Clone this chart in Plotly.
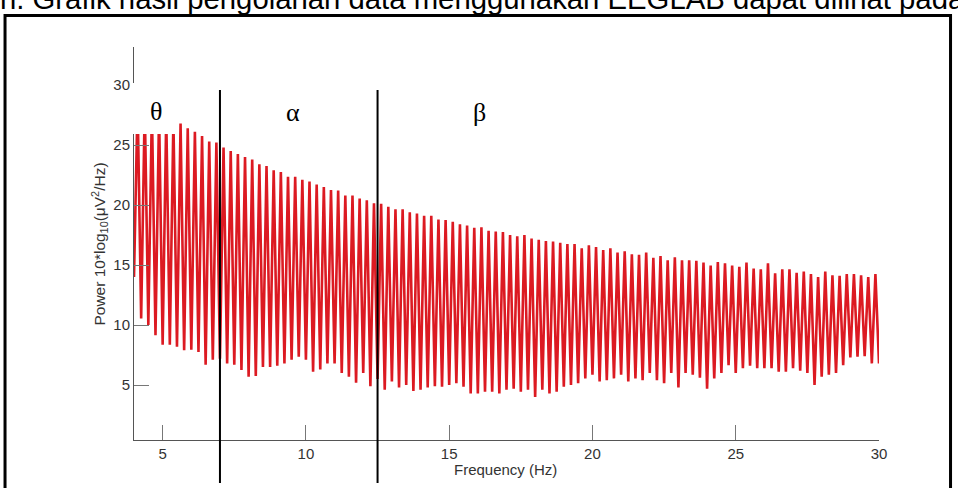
import numpy as np
import plotly.graph_objects as go

# ---------------- data ----------------
# spectrum alternates between local maxima and minima every 0.125 Hz
trough_hz = np.arange(4.0, 30.001, 0.25)          # 105 bins
peak_hz = trough_hz[:-1] + 0.125                  # 104 bins

peak_db = [28.6, 28.3, 28.0, 27.7, 27.4, 27.1, 26.8, 26.4, 26.1, 25.75,
           25.3, 25.2, 24.8, 24.5, 24.25, 24.0, 23.8, 23.4, 23.25, 22.9,
           22.75, 22.35, 22.35, 22.1, 21.95, 21.7, 21.5, 21.25, 21.2, 20.8,
           20.8, 20.55, 20.4, 20.15, 20.1, 19.85, 19.65, 19.65, 19.4, 19.3,
           19.1, 19.1, 18.8, 18.75, 18.6, 18.4, 18.3, 18.1, 18.15, 17.85,
           17.8, 17.75, 17.5, 17.4, 17.5, 17.2, 17.1, 17.0, 16.95, 16.85,
           16.75, 16.75, 16.4, 16.65, 16.5, 16.25, 16.4, 16.05, 16.15, 15.9,
           15.85, 16.05, 15.6, 15.75, 15.4, 15.65, 15.4, 15.4, 15.35, 15.2,
           14.95, 15.25, 15.15, 14.95, 14.85, 15.2, 14.7, 14.65, 15.15, 14.3,
           14.65, 14.65, 14.35, 14.45, 14.25, 14.0, 14.45, 14.15, 14.1, 14.25,
           14.25, 14.15, 14.0, 14.25]

trough_db = [14.0, 10.55, 10.0, 9.15, 8.35, 8.35, 8.2, 7.9, 7.95, 7.75,
             6.7, 7.1, 7.2, 6.8, 6.7, 6.25, 5.7, 5.75, 6.5, 6.5,
             6.6, 6.8, 7.1, 7.35, 7.1, 6.1, 6.3, 6.8, 6.8, 6.0,
             5.7, 5.2, 6.0, 4.9, 5.5, 4.6, 5.3, 4.8, 5.0, 4.5,
             4.6, 4.8, 4.9, 4.85, 5.0, 5.15, 4.85, 4.3, 4.3, 4.45,
             4.45, 4.3, 4.6, 4.7, 4.45, 4.6, 4.0, 4.6, 4.3, 4.45,
             4.85, 5.0, 5.15, 5.55, 5.85, 5.3, 5.4, 5.55, 5.85, 5.3,
             5.55, 5.4, 6.0, 5.4, 5.15, 6.0, 4.8, 6.0, 5.85, 5.6,
             4.7, 5.55, 6.0, 6.65, 6.0, 6.4, 6.6, 6.4, 6.4, 6.4,
             6.1, 6.1, 6.4, 6.2, 6.0, 5.0, 5.7, 5.85, 6.0, 6.65,
             7.3, 7.35, 7.4, 6.8, 6.8]

band_edges_hz = [7.0, 12.5]
band_labels = ["θ", "α", "β"]
x_ticks = [5, 10, 15, 20, 25, 30]
y_ticks = [5, 10, 15, 20, 25, 30]
caption = "n. Grafik hasil pengolahan data menggunakan EEGLAB dapat dilihat pada"

# interleave minima / maxima into one spectrum line
freq, power = [], []
for i in range(len(peak_db)):
    freq += [trough_hz[i], peak_hz[i]]
    power += [trough_db[i], peak_db[i]]
freq.append(trough_hz[-1])
power.append(trough_db[-1])

# ---------------- layout geometry (window pixels) ----------------
W, H = 958, 488
L = 134.4
T = 47
R = W - 879
B = H - 440
pw, ph = W - L - R, H - T - B


def px(x):  # window pixel -> paper
    return (x - L) / pw


def py(y):  # window pixel -> paper
    return (H - B - y) / ph


RED = "#dc1a22"

fig = go.Figure()
fig.add_trace(go.Scatter(x=freq, y=power, mode="lines",
                         line=dict(color=RED, width=2.6),
                         hoverinfo="skip", showlegend=False))

axis_common = dict(showline=True, linecolor="#555", linewidth=1,
                   ticks="inside", ticklen=15, tickcolor="#777", tickwidth=1,
                   showgrid=False, zeroline=False,
                   tickfont=dict(family="Liberation Sans, Arial", size=15, color="#333"))

fig.update_layout(
    width=W, height=H,
    margin=dict(l=L, r=R, t=T, b=B, pad=0),
    paper_bgcolor="white", plot_bgcolor="white",
    xaxis=dict(range=[4, 30], tickvals=x_ticks, **axis_common),
    yaxis=dict(range=[0.417, 33.17], tickvals=y_ticks, **axis_common),
    showlegend=False,
)

shapes = []
# document frame
shapes.append(dict(type="rect", xref="paper", yref="paper",
                   x0=px(5.5), x1=px(950.5), y0=py(15.5), y1=py(540),
                   line=dict(color="black", width=3), fillcolor="rgba(0,0,0,0)",
                   layer="above"))
# white text box behind theta
shapes.append(dict(type="rect", xref="paper", yref="paper",
                   x0=px(132), x1=px(177), y0=py(83), y1=py(134),
                   line=dict(width=0), fillcolor="white", layer="above"))
# band boundaries
for e in band_edges_hz:
    shapes.append(dict(type="line", xref="x", yref="paper",
                       x0=e, x1=e, y0=py(483), y1=py(90),
                       line=dict(color="black", width=2), layer="above"))
fig.update_layout(shapes=shapes)

ann = []
label_pos = [(156, 112), (293, 113), (480, 113)]
for lab, (lx, ly) in zip(band_labels, label_pos):
    ann.append(dict(text=lab, xref="paper", yref="paper", x=px(lx), y=py(ly),
                    xanchor="center", yanchor="middle", showarrow=False,
                    font=dict(family="Liberation Serif, Times New Roman", size=26, color="black")))
ann.append(dict(text="Power 10*log<sub>10</sub>(μV<sup>2</sup>/Hz)", xref="paper", yref="paper",
                x=px(100), y=py(244), textangle=-90, xanchor="center", yanchor="middle",
                showarrow=False, font=dict(family="Liberation Sans, Arial", size=15.5, color="#333")))
ann.append(dict(text="Frequency (Hz)", xref="paper", yref="paper",
                x=px(506), y=py(470), xanchor="center", yanchor="middle",
                showarrow=False, font=dict(family="Liberation Sans, Arial", size=15, color="#333")))
ann.append(dict(text=caption, xref="paper", yref="paper",
                x=px(-2), y=py(17.3), xanchor="left", yanchor="bottom",
                showarrow=False, font=dict(family="Liberation Sans, Arial", size=29.3, color="black")))
fig.update_layout(annotations=ann)

# the page body normally has an 8px margin; remove it so the figure
# sits at the window's top-left corner
fig.write_html("out.html", config={"displayModeBar": False},
               post_script="document.body.style.margin='0px';")
